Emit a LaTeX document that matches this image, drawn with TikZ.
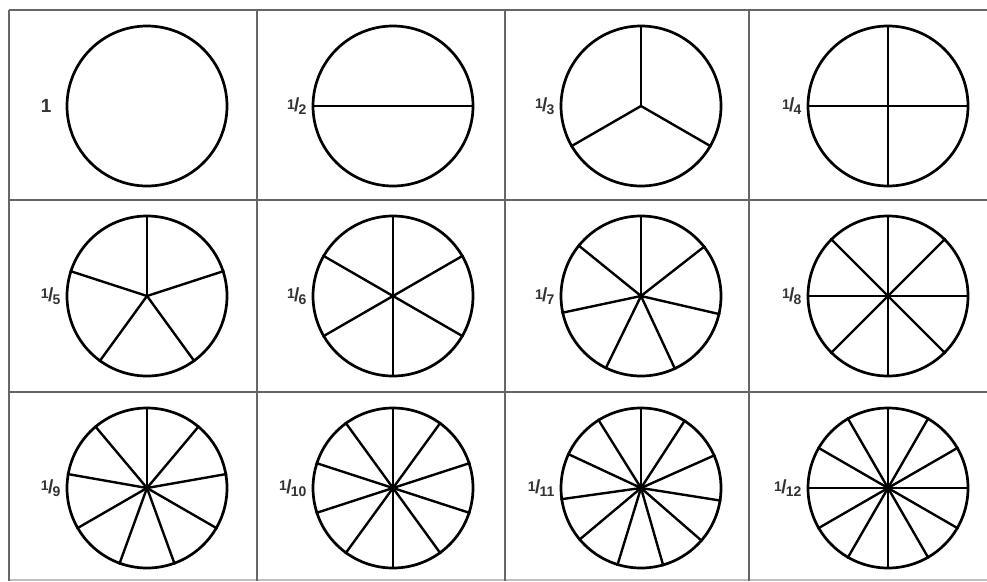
\documentclass[tikz,border=0pt]{standalone}
\usepackage{fontspec}
\setmainfont{Liberation Sans}
\newcommand{\myfrac}[2]{\raisebox{0.45ex}{\fontsize{14}{14}\selectfont #1}\kern-0.06em{\fontsize{19}{19}\selectfont/}\kern-0.08em\raisebox{-0.55ex}{\fontsize{14}{14}\selectfont #2}}
\begin{document}
\begin{tikzpicture}[x=1pt,y=-1pt,
  gridline/.style={draw=black!60,line width=1.9pt},
  pie/.style={circle,draw=black,line width=2.7pt,minimum size=160pt,inner sep=0pt},
  spoke/.style={line width=2.4pt,line cap=butt},
  flabel/.style={anchor=east,inner sep=0pt,text=black!80,font=\bfseries}]
\useasboundingbox (0,0) rectangle (987,581);
\fill[white] (0,0) rectangle (987,581);
% grid
\draw[gridline] (9,10) -- (987,10);
\draw[gridline] (9,200) -- (987,200);
\draw[gridline] (9,392) -- (987,392);
\draw[draw=black!25,line width=1.5pt] (9,580) -- (987,580);
\draw[gridline] (9,10) -- (9,581);
\draw[gridline] (257,10) -- (257,581);
\draw[gridline] (505,10) -- (505,581);
\draw[gridline] (749,10) -- (749,581);
% circles
\foreach \n/\x/\y in {1/147/106,2/393/106,3/641/106,4/888/106,
                      5/147/296,6/393/296,7/641/296,8/888/296,
                      9/147/488,10/393/488,11/641/488,12/888/488}{
  \node[pie] (c\n) at (\x,\y) {};
}
% spokes
\foreach \n/\s in {2/0,3/90,4/90,5/90,6/90,7/90,8/90,9/90,10/90,11/90,12/90}{
  \foreach \k [evaluate=\k as \a using {\s+360*\k/\n}] in {1,...,\n}{
    \draw[spoke] (c\n.center) -- (c\n.\a);
  }
}
\foreach \n/\r in {7/1.8,8/1.8,9/3.2,10/3.2,11/3.6,12/3.6}{
  \fill (c\n.center) circle (\r pt);
}
% labels
\node[flabel,font=\bfseries\fontsize{19}{19}\selectfont] (l1) at ([xshift=-14pt,yshift=0pt]c1.west) {1};
\foreach \n in {2,...,12}{
  \node[flabel] (l\n) at ([xshift=-5pt,yshift=0pt]c\n.west) {\myfrac{1}{\n}};
}
\end{tikzpicture}
\end{document}
